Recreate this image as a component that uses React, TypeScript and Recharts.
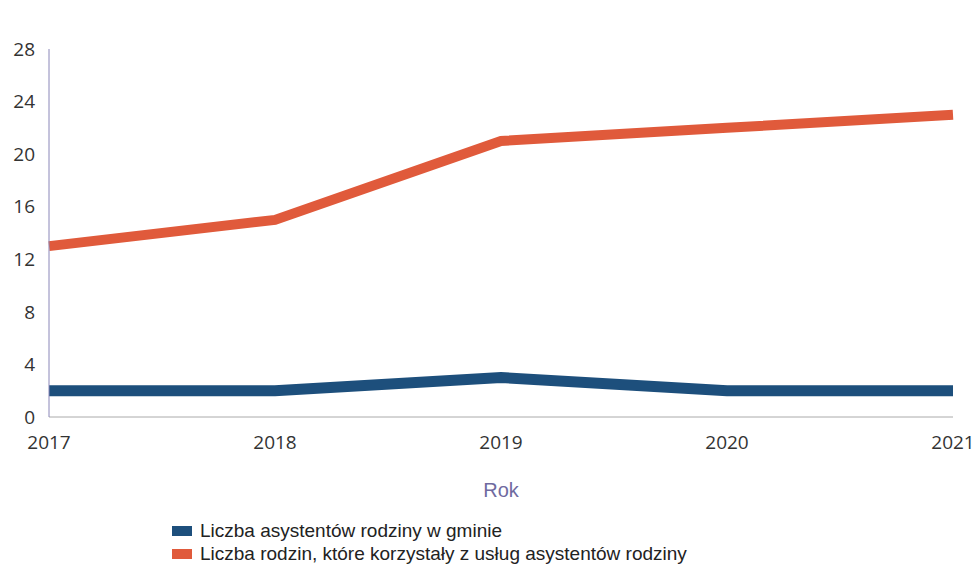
import React from "react";
import { LineChart, Line, XAxis, YAxis } from "recharts";

const years = ["2017", "2018", "2019", "2020", "2021"];
const assistants = [2, 2, 3, 2, 2];
const families = [13, 15, 21, 22, 23];
const yTicks = [0, 4, 8, 12, 16, 20, 24, 28];

const seriesNames = [
  "Liczba asystentów rodziny w gminie",
  "Liczba rodzin, które korzystały z usług asystentów rodziny",
];
const seriesColors = ["#1d4f7c", "#e05a3b"];

const data = years.map((y, i) => ({
  rok: y,
  asystenci: assistants[i],
  rodziny: families[i],
}));

const LegendBox: React.FC = () => (
  <div style={{ position: "absolute", left: 172, top: 519, fontFamily: "'Liberation Sans', Arial, sans-serif", fontSize: 19, color: "#222", lineHeight: "23px" }}>
    {seriesNames.map((n, i) => (
      <div key={n} style={{ display: "flex", alignItems: "center" }}>
        <span style={{ display: "inline-block", width: 20, height: 10, background: seriesColors[i], marginRight: 8 }} />
        {n}
      </div>
    ))}
  </div>
);

export default function App() {
  return (
    <div style={{ background: "#fff", width: 978, height: 574, position: "relative" }}>
      <style>{"body{margin:0}"}</style>
      <LineChart width={978} height={574} data={data} margin={{ top: 49, right: 25, left: 0, bottom: 77 }} style={{ overflow: "visible" }}>
        <XAxis
          dataKey="rok"
          stroke="#aaaaaa"
          tickLine={false}
          tickSize={17}
          height={80}
          tick={{ fill: "#333", fontSize: 19, fontFamily: "'Open Sans', sans-serif" }}
          label={{ value: "Rok", position: "insideBottom", offset: 0, fill: "#6f6a9f", fontSize: 20, fontFamily: "'Liberation Sans', Arial, sans-serif" }}
        />
        <YAxis
          domain={[0, 28]}
          ticks={yTicks}
          width={49}
          stroke="#8a86b8"
          tickLine={false}
          tickSize={12}
          tick={{ fill: "#333", fontSize: 19, fontFamily: "'Open Sans', sans-serif" }}
        />
        <Line dataKey="asystenci" stroke={seriesColors[0]} strokeWidth={11} dot={false} isAnimationActive={false} strokeLinecap="butt" strokeLinejoin="miter" />
        <Line dataKey="rodziny" stroke={seriesColors[1]} strokeWidth={10} dot={false} isAnimationActive={false} strokeLinecap="butt" strokeLinejoin="miter" />
      </LineChart>
      <LegendBox />
    </div>
  );
}
